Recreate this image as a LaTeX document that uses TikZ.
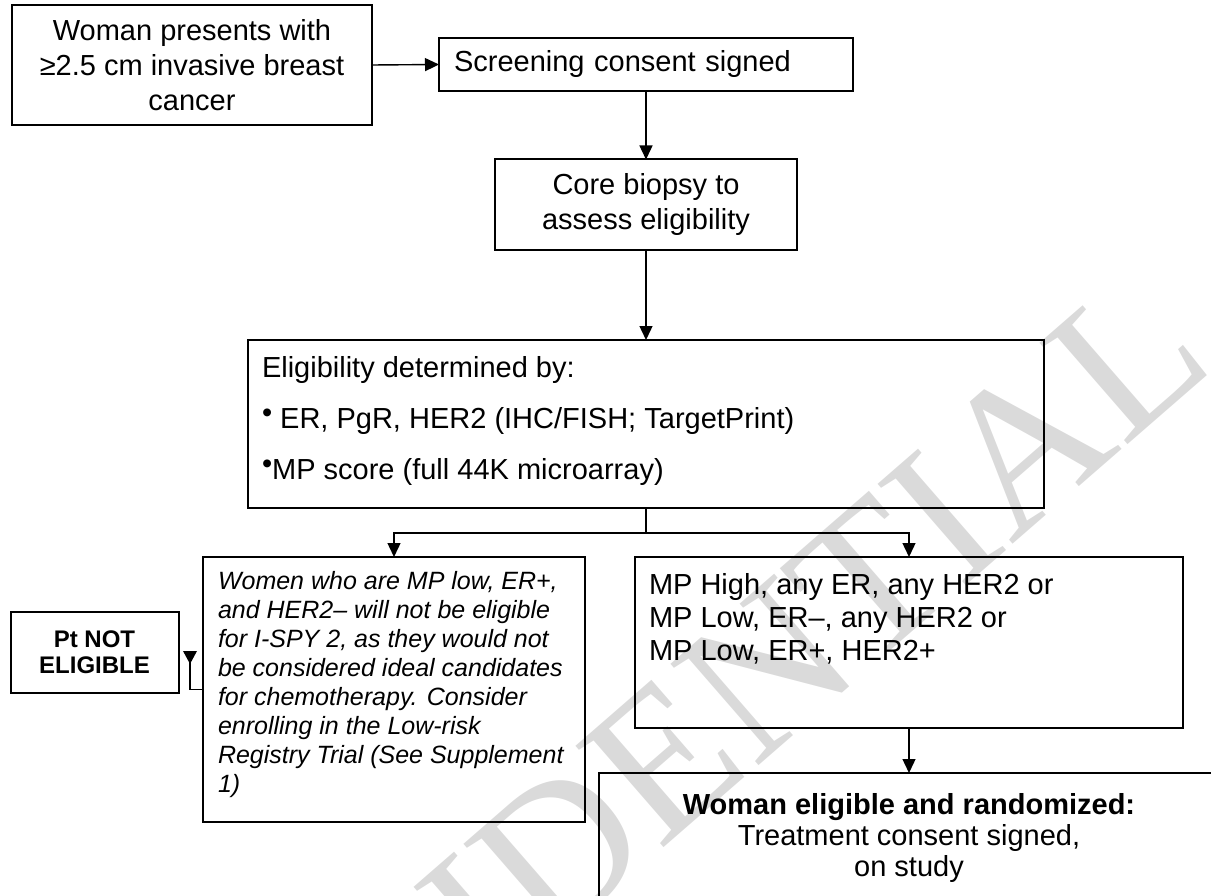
\documentclass[tikz,border=0pt]{standalone}
\usepackage{fontspec}
\setmainfont{Liberation Sans}
\newfontfamily\wmfont{Liberation Serif}
\usetikzlibrary{arrows.meta,calc}
\definecolor{wmgray}{HTML}{DADADA}
\newcommand\fsn{\fontsize{29}{35}\selectfont}
\newcommand\bul{\raisebox{6pt}{•}}
\begin{document}
\begin{tikzpicture}[x=1pt,y=-1pt,
  box/.style={draw=black, line width=2pt, inner sep=0pt, outer sep=0pt, rectangle},
  conn/.style={line width=1.4pt, -{Triangle[length=14pt,width=13pt]}},
  plain/.style={line width=1.4pt}]
\useasboundingbox (0,0) rectangle (1211,896);
\begin{scope}
\clip (0,0) rectangle (1211,896);
% watermark
\node[text=wmgray, rotate=41, inner sep=0pt, font=\wmfont\fontsize{205}{205}\selectfont] (wm) at (607,809) {CONFIDENTIAL};

% boxes
\node[box, minimum width=360pt, minimum height=120pt, align=center, font=\fsn] (b1) at (192,65)
  {Woman presents with\\≥2.5 cm invasive breast\\cancer};
\node[box, anchor=west, minimum height=53pt, text width=384pt, inner xsep=15pt, align=left, font=\fsn] (b2) at (439,64.5)
  {Screening consent signed};
\node[box, minimum width=302pt, minimum height=91pt, align=center, font=\fsn] (b3) at (646,205)
  {Core biopsy to\\assess eligibility};
\node[box, anchor=north west, inner xsep=14pt, inner ysep=16pt] (b4) at (248,340)
  {\parbox[t][136pt][t]{768pt}{\fontsize{29}{51}\selectfont
   Eligibility determined by:\\
   \bul\ ER, PgR, HER2 (IHC/FISH; TargetPrint)\\
   \bul MP score (full 44K microarray)}};
\node[box, anchor=north west, inner xsep=15pt, inner ysep=14pt] (it) at (203,557)
  {\parbox[t][237pt][t]{352pt}{\fontsize{25}{29}\selectfont\itshape
   Women who are MP low, ER+,\\
   and HER2– will not be eligible\\
   for I-SPY 2, as they would not\\
   be considered ideal candidates\\
   for chemotherapy. Consider\\
   enrolling in the Low-risk\\
   Registry Trial (See Supplement\\
   1)}};
\node[box, minimum width=168pt, minimum height=81pt, align=center, font=\bfseries\fontsize{24}{26}\selectfont] (pt) at (94.5,652)
  {Pt NOT\\ELIGIBLE};
\node[box, anchor=north west, inner xsep=14pt, inner ysep=16pt] (mp) at (635,557)
  {\parbox[t][139pt][t]{520pt}{\fontsize{29}{33}\selectfont
   MP High, any ER, any HER2 or\\
   MP Low, ER–, any HER2 or\\
   MP Low, ER+, HER2+}};
\node[box, anchor=north west, inner xsep=0pt, inner ysep=20pt] (wo) at (599,773)
  {\makebox[700pt][l]{\parbox[t][210pt][t]{620pt}{\centering\fontsize{29}{31}\selectfont
   \textbf{Woman eligible and randomized:}\\
   Treatment consent signed,\\
   on study}}};

% connectors
\coordinate (split) at (646,533);
\coordinate (ptk) at (190,651);
\draw[conn] (b1.east) -- (b2.west);
\draw[conn] (b2.south) -- (b3.north);
\draw[conn] (b3.south) -- (b3.south |- b4.north);
\draw[plain] (b4.south) -- (split);
\draw[conn] (split) -| (it.north);
\draw[conn] (split) -| (mp.north);
\draw[conn] (mp.south) -- (mp.south |- wo.north);
\draw[plain] (it.west) -| (ptk);
\fill (ptk) ++(-7,0) -- ++(14,0) -- ++(-7,13) -- cycle;
\end{scope}
\end{tikzpicture}
\end{document}
